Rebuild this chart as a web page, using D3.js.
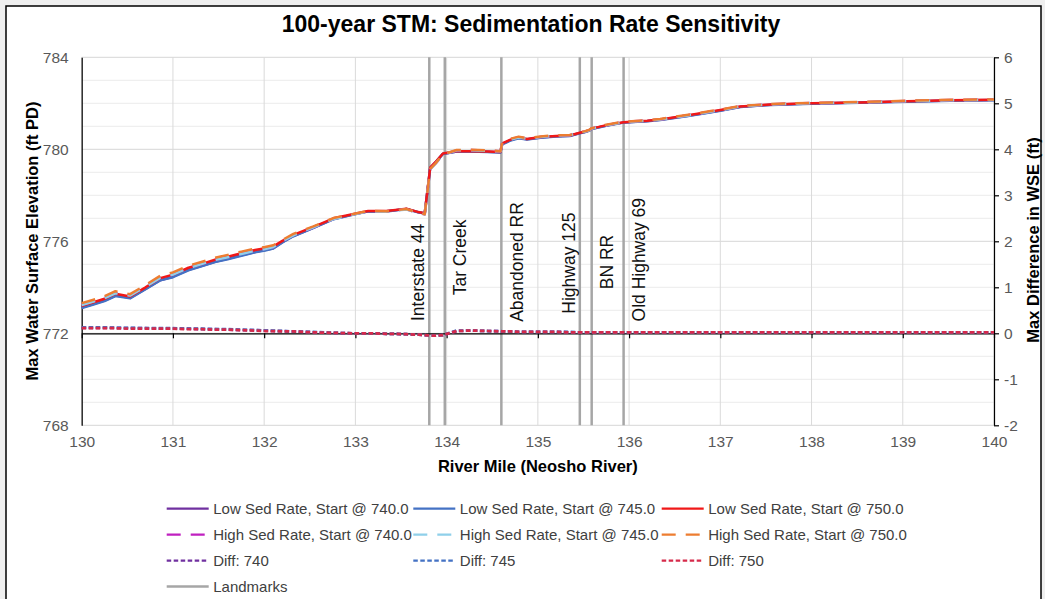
<!DOCTYPE html>
<html>
<head>
<meta charset="utf-8">
<script src="https://cdn.jsdelivr.net/npm/d3@7"></script>
<style>
  html, body { margin: 0; padding: 0; background: #efefef; }
  svg { display: block; font-family: "Liberation Sans", Arial, sans-serif; }
</style>
</head>
<body>
<svg id="chart" width="1045" height="599"></svg>
<script>
// River miles of the computed cross sections
const miles = [130.00, 130.12, 130.25, 130.37, 130.53, 130.70, 130.86, 131.00, 131.17, 131.32,
  131.46, 131.60, 131.75, 131.90, 132.01, 132.10, 132.20, 132.32, 132.54, 132.76,
  132.98, 133.14, 133.34, 133.56, 133.69, 133.76, 133.82, 133.88, 133.96, 134.11,
  134.26, 134.45, 134.59, 134.61, 134.70, 134.79, 134.88, 135.03, 135.20, 135.35,
  135.46, 135.51, 135.56, 135.59, 135.75, 135.94, 136.20, 136.34, 136.63, 136.80,
  137.00, 137.22, 137.55, 138.00, 138.53, 139.05, 139.52, 140.00];

// Max water surface elevation (ft PD), low sedimentation rate
const lowSed740 = [773.12, 773.26, 773.42, 773.64, 773.54, 773.93, 774.31, 774.46, 774.76, 774.93,
  775.11, 775.24, 775.39, 775.53, 775.62, 775.70, 775.96, 776.23, 776.59, 776.97,
  777.17, 777.30, 777.31, 777.41, 777.26, 777.21, 779.19, 779.44, 779.81, 779.90,
  779.91, 779.89, 779.87, 780.24, 780.40, 780.50, 780.44, 780.51, 780.57, 780.59,
  780.71, 780.75, 780.81, 780.89, 781.03, 781.17, 781.23, 781.28, 781.45, 781.56,
  781.69, 781.85, 781.94, 781.99, 782.03, 782.08, 782.12, 782.14];
const lowSed745 = [773.10, 773.24, 773.40, 773.62, 773.52, 773.92, 774.30, 774.44, 774.74, 774.92,
  775.10, 775.22, 775.37, 775.52, 775.60, 775.69, 775.95, 776.22, 776.58, 776.96,
  777.16, 777.30, 777.30, 777.40, 777.26, 777.21, 779.18, 779.43, 779.80, 779.90,
  779.90, 779.88, 779.86, 780.22, 780.38, 780.48, 780.43, 780.50, 780.56, 780.58,
  780.70, 780.74, 780.80, 780.88, 781.02, 781.16, 781.22, 781.27, 781.44, 781.55,
  781.68, 781.84, 781.93, 781.98, 782.02, 782.07, 782.11, 782.13];
const lowSed750 = [773.20, 773.34, 773.50, 773.72, 773.60, 774.00, 774.40, 774.55, 774.85, 775.02,
  775.20, 775.33, 775.48, 775.62, 775.70, 775.78, 776.02, 776.28, 776.63, 777.00,
  777.19, 777.32, 777.32, 777.42, 777.27, 777.22, 779.20, 779.45, 779.82, 779.92,
  779.92, 779.90, 779.88, 780.26, 780.42, 780.52, 780.45, 780.53, 780.58, 780.60,
  780.72, 780.76, 780.82, 780.90, 781.05, 781.18, 781.24, 781.30, 781.47, 781.58,
  781.71, 781.86, 781.95, 782.00, 782.04, 782.09, 782.13, 782.15];

// Max water surface elevation (ft PD), high sedimentation rate
const highSed740 = [773.24, 773.38, 773.54, 773.76, 773.65, 774.04, 774.41, 774.56, 774.86, 775.02,
  775.20, 775.32, 775.46, 775.60, 775.68, 775.75, 776.01, 776.27, 776.61, 776.98,
  777.17, 777.30, 777.30, 777.39, 777.23, 777.17, 779.14, 779.39, 779.77, 779.95,
  779.97, 779.94, 779.92, 780.28, 780.44, 780.53, 780.47, 780.54, 780.60, 780.61,
  780.73, 780.77, 780.83, 780.91, 781.05, 781.19, 781.25, 781.30, 781.47, 781.58,
  781.71, 781.87, 781.96, 782.01, 782.05, 782.10, 782.14, 782.16];
const highSed745 = [773.23, 773.37, 773.53, 773.74, 773.64, 774.03, 774.41, 774.55, 774.84, 775.02,
  775.19, 775.31, 775.45, 775.59, 775.66, 775.75, 776.00, 776.26, 776.61, 776.97,
  777.16, 777.30, 777.29, 777.38, 777.23, 777.17, 779.13, 779.38, 779.76, 779.96,
  779.96, 779.93, 779.91, 780.26, 780.42, 780.51, 780.46, 780.53, 780.59, 780.61,
  780.72, 780.76, 780.82, 780.90, 781.04, 781.18, 781.24, 781.29, 781.46, 781.57,
  781.70, 781.86, 781.95, 782.00, 782.04, 782.09, 782.13, 782.15];
const highSed750 = [773.31, 773.45, 773.61, 773.83, 773.70, 774.10, 774.50, 774.65, 774.94, 775.11,
  775.28, 775.41, 775.55, 775.68, 775.75, 775.83, 776.06, 776.32, 776.65, 777.01,
  777.19, 777.32, 777.31, 777.40, 777.24, 777.18, 779.15, 779.40, 779.78, 779.97,
  779.98, 779.95, 779.92, 780.30, 780.46, 780.55, 780.48, 780.56, 780.61, 780.62,
  780.74, 780.78, 780.84, 780.92, 781.07, 781.20, 781.26, 781.32, 781.49, 781.60,
  781.73, 781.88, 781.97, 782.02, 782.06, 782.11, 782.15, 782.17];

// Max difference in WSE (ft), high minus low sedimentation rate
const diff740 = [0.12, 0.12, 0.12, 0.12, 0.11, 0.11, 0.10, 0.10, 0.10, 0.09,
  0.09, 0.08, 0.07, 0.07, 0.06, 0.05, 0.05, 0.04, 0.02, 0.01,
  0.00, 0.00, -0.01, -0.02, -0.03, -0.04, -0.05, -0.05, -0.04, 0.05,
  0.06, 0.05, 0.05, 0.04, 0.04, 0.03, 0.03, 0.03, 0.03, 0.02,
  0.02, 0.02, 0.02, 0.02, 0.02, 0.02, 0.02, 0.02, 0.02, 0.02,
  0.02, 0.02, 0.02, 0.02, 0.02, 0.02, 0.02, 0.02];
const diff745 = [0.13, 0.13, 0.13, 0.12, 0.12, 0.11, 0.11, 0.11, 0.10, 0.10,
  0.09, 0.09, 0.08, 0.07, 0.06, 0.06, 0.05, 0.04, 0.03, 0.01,
  0.00, 0.00, -0.01, -0.02, -0.03, -0.04, -0.05, -0.05, -0.04, 0.06,
  0.06, 0.05, 0.05, 0.04, 0.04, 0.03, 0.03, 0.03, 0.03, 0.03,
  0.02, 0.02, 0.02, 0.02, 0.02, 0.02, 0.02, 0.02, 0.02, 0.02,
  0.02, 0.02, 0.02, 0.02, 0.02, 0.02, 0.02, 0.02];
const diff750 = [0.11, 0.11, 0.11, 0.11, 0.10, 0.10, 0.10, 0.10, 0.09, 0.09,
  0.08, 0.08, 0.07, 0.06, 0.05, 0.05, 0.04, 0.04, 0.02, 0.01,
  0.00, 0.00, -0.01, -0.02, -0.03, -0.04, -0.05, -0.05, -0.04, 0.05,
  0.06, 0.05, 0.04, 0.04, 0.04, 0.03, 0.03, 0.03, 0.03, 0.02,
  0.02, 0.02, 0.02, 0.02, 0.02, 0.02, 0.02, 0.02, 0.02, 0.02,
  0.02, 0.02, 0.02, 0.02, 0.02, 0.02, 0.02, 0.02];

// Landmarks along the river and where their labels sit (elevation of label centre)
const landmarkMiles = [133.81, 133.98, 134.60, 135.46, 135.59, 135.94];
const landmarkNames = ["Interstate 44", "Tar Creek", "Abandoned RR", "Highway 125", "BN RR", "Old Highway 69"];
const landmarkLabelSide = ["left", "right", "right", "left", "right", "right"];
const landmarkLabelElev = [774.65, 775.30, 775.10, 775.05, 775.10, 775.20];

// Axis ticks
const xTicks = [130, 131, 132, 133, 134, 135, 136, 137, 138, 139, 140];
const leftTicks = [768, 772, 776, 780, 784];
const leftMinor = [769, 770, 771, 773, 774, 775, 777, 778, 779, 781, 782, 783];
const rightTicks = [-2, -1, 0, 1, 2, 3, 4, 5, 6];

const svg = d3.select("#chart");
const plot = { left: 81.7, right: 994, top: 57.3, bottom: 425.3 };

const x = d3.scaleLinear().domain([130, 140]).range([plot.left, plot.right]);
const yL = d3.scaleLinear().domain([768, 784]).range([plot.bottom, plot.top]);
const yR = d3.scaleLinear().domain([-2, 6]).range([plot.bottom, plot.top]);

// Chart area with frame
svg.append("rect").attr("x", 6).attr("y", 6).attr("width", 1035).attr("height", 600)
  .attr("fill", "#fff").attr("stroke", "#000").attr("stroke-width", 1.5);

// Title
svg.append("text").attr("x", 531).attr("y", 32).attr("text-anchor", "middle")
  .attr("font-size", 23).attr("font-weight", "bold").attr("fill", "#000")
  .text("100-year STM: Sedimentation Rate Sensitivity");

// Gridlines
const grid = svg.append("g");
grid.selectAll(".minor").data(leftMinor).join("line")
  .attr("x1", plot.left).attr("x2", plot.right)
  .attr("y1", d => yL(d)).attr("y2", d => yL(d))
  .attr("stroke", "#ececec").attr("stroke-width", 1);
grid.selectAll(".major").data(leftTicks).join("line")
  .attr("x1", plot.left).attr("x2", plot.right)
  .attr("y1", d => yL(d)).attr("y2", d => yL(d))
  .attr("stroke", "#d6d6d6").attr("stroke-width", 1);
grid.selectAll(".vert").data(xTicks).join("line")
  .attr("x1", d => x(d)).attr("x2", d => x(d))
  .attr("y1", plot.top).attr("y2", plot.bottom)
  .attr("stroke", "#dadada").attr("stroke-width", 1);

// Landmark verticals
const lm = landmarkMiles.map((m, i) => ({ m, name: landmarkNames[i], side: landmarkLabelSide[i], elev: landmarkLabelElev[i] }));
const vline = d3.line().x(d => x(d[0])).y(d => yL(d[1]));
svg.append("g").selectAll("path").data(lm).join("path")
  .attr("d", d => vline([[d.m, 768], [d.m, 784]]))
  .attr("stroke", "#a6a6a6").attr("stroke-width", 2.5).attr("fill", "none");

// Axes
const fmt = d => String(d);
const axL = svg.append("g").attr("transform", `translate(${plot.left},0)`)
  .call(d3.axisLeft(yL).tickValues(leftTicks).tickSize(0).tickPadding(13).tickFormat(fmt));
const axR = svg.append("g").attr("transform", `translate(${plot.right},0)`)
  .call(d3.axisRight(yR).tickValues(rightTicks).tickSize(5).tickSizeOuter(0).tickPadding(5).tickFormat(fmt));
const axB = svg.append("g").attr("transform", `translate(0,${plot.bottom})`)
  .call(d3.axisBottom(x).tickValues(xTicks).tickSize(0).tickPadding(11).tickFormat(fmt));
axB.select(".domain").remove();
// Category axis crossing at zero difference
const axZ = svg.append("g").attr("transform", `translate(0,${yR(0)})`)
  .call(d3.axisBottom(x).tickValues(xTicks).tickSize(5).tickSizeOuter(0).tickFormat(""));

[axL, axR, axB, axZ].forEach(a => {
  a.attr("font-size", 15.5).attr("font-family", "'Liberation Sans', Arial, sans-serif");
  a.select(".domain").attr("stroke", "#000").attr("stroke-width", 1.2);
  a.selectAll(".tick line").attr("stroke", "#000").attr("stroke-width", 1.2);
  a.selectAll(".tick text").attr("fill", "#595959");
});

// Series
const series = [
  { name: "Low Sed Rate, Start @ 740.0", vals: lowSed740, color: "#7030a0", dash: null, axis: "L" },
  { name: "Low Sed Rate, Start @ 745.0", vals: lowSed745, color: "#4472c4", dash: null, axis: "L" },
  { name: "Low Sed Rate, Start @ 750.0", vals: lowSed750, color: "#f01818", dash: null, axis: "L" },
  { name: "High Sed Rate, Start @ 740.0", vals: highSed740, color: "#c020c0", dash: "14,10", axis: "L" },
  { name: "High Sed Rate, Start @ 745.0", vals: highSed745, color: "#8fd0ea", dash: "14,10", axis: "L" },
  { name: "High Sed Rate, Start @ 750.0", vals: highSed750, color: "#ed7d31", dash: "14,10", axis: "L" },
  { name: "Diff: 740", vals: diff740, color: "#7030a0", dash: "4.5,2.5", axis: "R" },
  { name: "Diff: 745", vals: diff745, color: "#4472c4", dash: "4.5,2.5", axis: "R" },
  { name: "Diff: 750", vals: diff750, color: "#d62a4a", dash: "4.5,2.5", axis: "R" }
];

const gLines = svg.append("g");
series.forEach((s, i) => {
  const yS = s.axis === "L" ? yL : yR;
  const line = d3.line().x(d => x(d[0])).y(d => yS(d[1]));
  gLines.append("path")
    .datum(miles.map((m, j) => [m, s.vals[j]]))
    .attr("d", line)
    .attr("fill", "none")
    .attr("stroke", s.color)
    .attr("stroke-width", s.axis === "R" ? 2.75 : 2.5)
    .attr("stroke-linejoin", "round")
    .attr("stroke-dasharray", s.dash);
});

// Landmark labels
svg.append("g").selectAll("text").data(lm).join("text")
  .attr("transform", d => {
    const cx = x(d.m) + (d.side === "left" ? -11 : 15.5);
    return `translate(${cx},${yL(d.elev)}) rotate(-90)`;
  })
  .attr("text-anchor", "middle").attr("dominant-baseline", "central")
  .attr("font-size", 17.5).attr("fill", "#111")
  .text(d => d.name);

// Axis titles
svg.append("text").attr("transform", "translate(32,241) rotate(-90)")
  .attr("text-anchor", "middle").attr("dominant-baseline", "central")
  .attr("font-size", 16.5).attr("font-weight", "bold").attr("fill", "#000")
  .text("Max Water Surface Elevation (ft PD)");
svg.append("text").attr("transform", "translate(1033,240) rotate(-90)")
  .attr("text-anchor", "middle").attr("dominant-baseline", "central")
  .attr("font-size", 16.5).attr("font-weight", "bold").attr("fill", "#000")
  .text("Max Difference in WSE (ft)");
svg.append("text").attr("x", (plot.left + plot.right) / 2).attr("y", 472)
  .attr("text-anchor", "middle")
  .attr("font-size", 16.5).attr("font-weight", "bold").attr("fill", "#000")
  .text("River Mile (Neosho River)");

// Legend
const legendItems = series.concat([{ name: "Landmarks", color: "#a6a6a6", dash: null, width: 2.5 }]);
const colX = [166.7, 413.3, 661.7];
const rowY = [508.5, 534.5, 560.5, 586.5];
const legend = svg.append("g");
legendItems.forEach((s, i) => {
  const gx = colX[i % 3], gy = rowY[Math.floor(i / 3)];
  const g = legend.append("g").attr("transform", `translate(${gx},${gy})`);
  g.append("line").attr("x1", 0).attr("x2", 42).attr("y1", 0).attr("y2", 0)
    .attr("stroke", s.color).attr("stroke-width", s.width || 2.25)
    .attr("stroke-dasharray", s.dash);
  g.append("text").attr("x", 46.5).attr("y", 0).attr("dominant-baseline", "central")
    .attr("font-size", 15).attr("fill", "#404040").text(s.name);
});
</script>
</body>
</html>
